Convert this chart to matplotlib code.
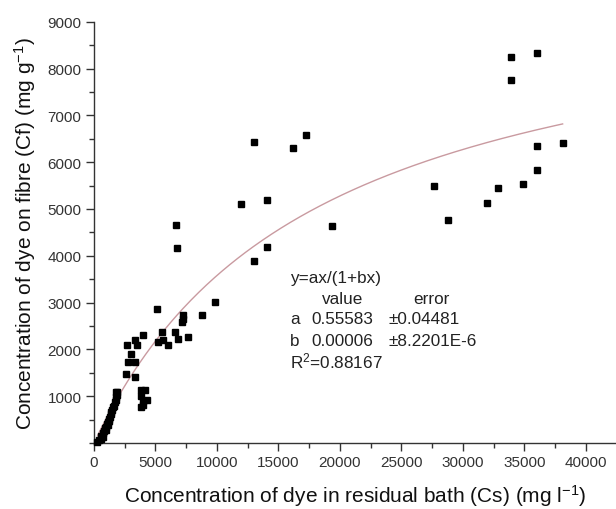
import numpy as np
import matplotlib
matplotlib.use("Agg")
import matplotlib.pyplot as plt
from matplotlib.ticker import MultipleLocator

plt.rcParams['font.family'] = ['Liberation Sans', 'DejaVu Sans']
plt.rcParams['mathtext.fontset'] = 'custom'
plt.rcParams['mathtext.rm'] = 'Liberation Sans'
plt.rcParams['mathtext.it'] = 'Liberation Sans'
plt.rcParams['mathtext.default'] = 'regular'

# Residual bath concentration Cs (mg/l)
cs = [33900, 36020, 33900, 17210, 13010, 16150, 38100, 36020, 36020, 34900,
      27640, 32870, 31920, 28770, 19330, 11940, 14040, 14060, 13030, 6670,
      6720, 9840, 8750, 5150, 7260, 7130, 7240, 6590, 6860, 7670,
      5500, 5630, 5230, 6040, 2660, 3330, 3960, 3470, 2980, 2790,
      3330, 2600, 3330, 3850, 4125, 3850, 3990, 4270, 3850, 3990,
      250, 400, 550, 600, 700, 750, 850, 900, 950, 1050,
      1100, 1150, 1200, 1300, 1350, 1400, 1500, 1550, 1650, 1700,
      1750, 1800, 1850, 1900, 1800, 1000, 1250]
# Dye on fibre Cf (mg/g)
cf = [8256, 8335, 7750, 6585, 6428, 6300, 6407, 6336, 5828, 5543,
      5492, 5457, 5133, 4757, 4637, 5105, 5200, 4183, 3892, 4658,
      4155, 3015, 2743, 2871, 2728, 2586, 2650, 2371, 2229, 2264,
      2371, 2193, 2157, 2086, 2086, 2193, 2300, 2086, 1907, 1729,
      1729, 1478, 1407, 1128, 1128, 994, 887, 915, 765, 809,
      30, 60, 90, 150, 120, 210, 260, 330, 280, 400,
      450, 380, 520, 560, 620, 660, 700, 760, 800, 870,
      920, 980, 1030, 1080, 1080, 350, 470]

# Fit y = a x / (1 + b x)
a_fit = 0.55583
b_fit = 5.53e-5
fit_range = [300, 38100]

xticks = [0, 5000, 10000, 15000, 20000, 25000, 30000, 35000, 40000]
yticks = [1000, 2000, 3000, 4000, 5000, 6000, 7000, 8000, 9000]

fig = plt.figure(figsize=(6.16, 5.10), dpi=100)
ax = fig.add_axes([94/616, 66/510, 1 - 94/616, (444 - 22.7)/510])

xf = np.linspace(fit_range[0], fit_range[1], 300)
yf = a_fit * xf / (1 + b_fit * xf)
ax.plot(xf, yf, color='#c99aa0', lw=1.0, zorder=2)
ax.plot(cs, cf, 's', color='black', ms=5, mec='black', zorder=3, clip_on=False)

ax.set_xlim(0, 42440)
ax.set_ylim(0, 9000)
ax.set_xticks(xticks)
ax.set_yticks(yticks)
ax.xaxis.set_minor_locator(MultipleLocator(2500))
ax.yaxis.set_minor_locator(MultipleLocator(500))
ax.set_xticklabels([str(v) for v in xticks])
ax.set_yticklabels([str(v) for v in yticks])

for s in ['top', 'right']:
    ax.spines[s].set_visible(False)
for s in ['left', 'bottom']:
    ax.spines[s].set_color('#333333')
    ax.spines[s].set_linewidth(1.0)
ax.tick_params(which='major', length=6, width=1.0, color='#333333',
               labelsize=11, labelcolor='#333333', pad=3)
ax.tick_params(which='minor', length=3.5, width=1.0, color='#333333')

ax.set_xlabel('Concentration of dye in residual bath (Cs) (mg l$^{-1}$)',
              fontsize=15, labelpad=9, color='#111111')
ax.set_ylabel('Concentration of dye on fibre (Cf) (mg g$^{-1}$)',
              fontsize=15, labelpad=7, color='#111111')

tkw = dict(transform=ax.transAxes, fontsize=12.3, color='#222222', va='center')
ax.text(0.3755, 0.393, 'y=ax/(1+bx)', **tkw)
ax.text(0.436, 0.343, 'value', **tkw)
ax.text(0.612, 0.343, 'error', **tkw)
ax.text(0.3755, 0.296, 'a', **tkw)
ax.text(0.4157, 0.296, '0.55583', **tkw)
ax.text(0.565, 0.296, '±0.04481', **tkw)
ax.text(0.3755, 0.244, 'b', **tkw)
ax.text(0.4157, 0.244, '0.00006', **tkw)
ax.text(0.565, 0.244, '±8.2201E-6', **tkw)
ax.text(0.3755, 0.195, 'R$^2$=0.88167', **tkw)

fig.savefig('out.png', dpi=100)
